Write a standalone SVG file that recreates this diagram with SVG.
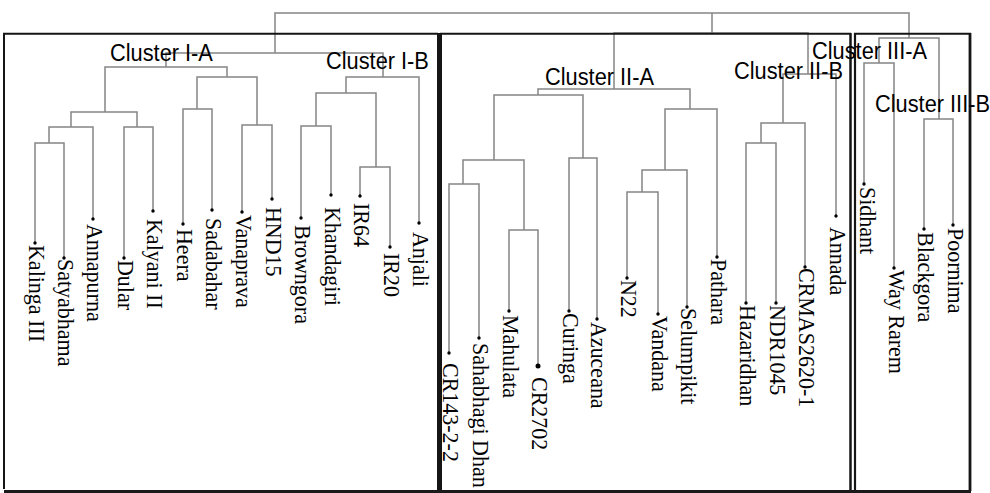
<svg xmlns="http://www.w3.org/2000/svg" width="990" height="493" viewBox="0 0 990 493">
<style>
.ln{stroke:#858585;stroke-width:1.5;fill:none}
.bx{stroke:#151515;fill:none}
.lf{font-family:"Liberation Serif","Times New Roman",serif;font-size:22px;fill:#000}
.cl{font-family:"Liberation Sans",Arial,sans-serif;font-size:21.8px;fill:#000}
.dt{fill:#000}
</style>
<rect width="990" height="493" fill="#fff"/>
<g id="connectors" class="ln">
<path d="M275,53 V13 H909 V38 M712,13 V33"/>
<path d="M166,67 V53 H383 V77"/>
<path d="M105,112 V67 H227 V77"/>
<path d="M71,127 V112 H137 V127"/>
<path d="M49,143 V127 H93 V219"/>
<path d="M35,243 V143 H64 V258"/>
<path d="M124,258 V127 H153 V211"/>
<path d="M197,109 V77 H257 V125"/>
<path d="M183,224 V109 H212 V210"/>
<path d="M242,212 V125 H272 V199"/>
<path d="M346,93 V77 H419 V223"/>
<path d="M316,126 V93 H376 V167"/>
<path d="M301,218 V126 H331 V195"/>
<path d="M360,196 V167 H390 V247"/>
<path d="M614,89 V33 H808 V74"/>
<path d="M538,95 V89 H690 V109"/>
<path d="M494,160 V95 H583 V158"/>
<path d="M463,184 V160 H524 V230"/>
<path d="M449,353 V184 H479 V338"/>
<path d="M509,311 V230 H538 V366"/>
<path d="M569,311 V158 H597 V319"/>
<path d="M665,170 V109 H717 V257"/>
<path d="M642,192 V170 H687 V307"/>
<path d="M627,278 V192 H658 V314"/>
<path d="M783,123 V74 H836 V216"/>
<path d="M761,143 V123 H805 V267"/>
<path d="M746,303 V143 H776 V303"/>
<path d="M879,63 V38 H939 V119"/>
<path d="M864,184 V63 H894 V268"/>
<path d="M924,229 V119 H953 V225"/>
</g>
<g id="boxes" class="bx">
<path d="M4,489 V33.7 H438" stroke-width="2"/>
<path d="M440,33.7 H851" stroke-width="2"/>
<path d="M854,33.7 H971" stroke-width="2"/>
<path d="M439.5,33 V491" stroke-width="5"/>
<path d="M850.5,33 V491" stroke-width="2.5"/>
<path d="M855,33 V491" stroke-width="2.2"/>
<path d="M970,33 V491" stroke-width="2.8"/>
</g>
<g id="cluster-labels" class="cl">
<text id="lbl-IA" transform="translate(110,61) scale(1,1.08)">Cluster I-A</text>
<text id="lbl-IB" transform="translate(326,69) scale(1,1.08)">Cluster I-B</text>
<text id="lbl-IIA" transform="translate(545,85) scale(1,1.08)">Cluster II-A</text>
<text id="lbl-IIB" transform="translate(734,79) scale(1,1.08)">Cluster II-B</text>
<text id="lbl-IIIA" transform="translate(812,59) scale(1,1.08)">Cluster III-A</text>
<text id="lbl-IIIB" transform="translate(875,112) scale(1,1.08)">Cluster III-B</text>
</g>
<g id="leaf-kalinga"><circle class="dt" cx="35" cy="243" r="1.7"/><text class="lf" transform="translate(29,245) rotate(90) scale(1,1.08)">Kalinga III</text></g>
<g id="leaf-satyabhama"><circle class="dt" cx="64" cy="258" r="1.7"/><text class="lf" transform="translate(58,259) rotate(90) scale(1,1.08)">Satyabhama</text></g>
<g id="leaf-annapurna"><circle class="dt" cx="93" cy="219" r="1.7"/><text class="lf" transform="translate(87,224) rotate(90) scale(1,1.08)">Annapurna</text></g>
<g id="leaf-dular"><circle class="dt" cx="124" cy="258" r="1.7"/><text class="lf" transform="translate(118,260) rotate(90) scale(1,1.08)">Dular</text></g>
<g id="leaf-kalyani"><circle class="dt" cx="153" cy="211" r="1.7"/><text class="lf" transform="translate(147,219) rotate(90) scale(1,1.08)">Kalyani II</text></g>
<g id="leaf-heera"><circle class="dt" cx="183" cy="224" r="1.7"/><text class="lf" transform="translate(177,229) rotate(90) scale(1,1.08)">Heera</text></g>
<g id="leaf-sadabahar"><circle class="dt" cx="212" cy="210" r="1.7"/><text class="lf" transform="translate(206,218) rotate(90) scale(1,1.08)">Sadabahar</text></g>
<g id="leaf-vanaprava"><circle class="dt" cx="242" cy="212" r="1.7"/><text class="lf" transform="translate(236,215) rotate(90) scale(1,1.08)">Vanaprava</text></g>
<g id="leaf-hnd15"><circle class="dt" cx="272" cy="199" r="1.7"/><text class="lf" transform="translate(266,207) rotate(90) scale(1,1.08)">HND15</text></g>
<g id="leaf-browngora"><circle class="dt" cx="301" cy="218" r="1.7"/><text class="lf" transform="translate(295,225) rotate(90) scale(1,1.08)">Browngora</text></g>
<g id="leaf-khandagiri"><circle class="dt" cx="331" cy="195" r="1.7"/><text class="lf" transform="translate(325,207) rotate(90) scale(1,1.08)">Khandagiri</text></g>
<g id="leaf-ir64"><circle class="dt" cx="360" cy="196" r="1.7"/><text class="lf" transform="translate(354,203) rotate(90) scale(1,1.08)">IR64</text></g>
<g id="leaf-ir20"><circle class="dt" cx="390" cy="247" r="1.7"/><text class="lf" transform="translate(384,253) rotate(90) scale(1,1.08)">IR20</text></g>
<g id="leaf-anjali"><circle class="dt" cx="419" cy="223" r="1.7"/><text class="lf" transform="translate(413,232) rotate(90) scale(1,1.08)">Anjali</text></g>
<g id="leaf-cr143"><circle class="dt" cx="449" cy="353" r="1.7"/><text class="lf" transform="translate(443,363) rotate(90) scale(1,1.08)">CR143-2-2</text></g>
<g id="leaf-sahabhagi"><circle class="dt" cx="479" cy="338" r="1.7"/><text class="lf" transform="translate(473,343) rotate(90) scale(1,1.08)">Sahabhagi Dhan</text></g>
<g id="leaf-mahulata"><circle class="dt" cx="509" cy="311" r="1.7"/><text class="lf" transform="translate(503,315) rotate(90) scale(1,1.08)">Mahulata</text></g>
<g id="leaf-cr2702"><circle class="dt" cx="538" cy="366" r="2.5"/><text class="lf" transform="translate(532,377) rotate(90) scale(1,1.08)">CR2702</text></g>
<g id="leaf-curinga"><circle class="dt" cx="569" cy="311" r="1.7"/><text class="lf" transform="translate(563,313) rotate(90) scale(1,1.08)">Curinga</text></g>
<g id="leaf-azuceana"><circle class="dt" cx="597" cy="319" r="1.7"/><text class="lf" transform="translate(591,322) rotate(90) scale(1,1.08)">Azuceana</text></g>
<g id="leaf-n22"><circle class="dt" cx="627" cy="278" r="1.7"/><text class="lf" transform="translate(621,280) rotate(90) scale(1,1.08)">N22</text></g>
<g id="leaf-vandana"><circle class="dt" cx="658" cy="314" r="1.7"/><text class="lf" transform="translate(652,316) rotate(90) scale(1,1.08)">Vandana</text></g>
<g id="leaf-selumpikit"><circle class="dt" cx="687" cy="307" r="1.7"/><text class="lf" transform="translate(681,308) rotate(90) scale(1,1.08)">Selumpikit</text></g>
<g id="leaf-pathara"><circle class="dt" cx="717" cy="257" r="1.7"/><text class="lf" transform="translate(711,259) rotate(90) scale(1,1.08)">Pathara</text></g>
<g id="leaf-hazaridhan"><circle class="dt" cx="746" cy="303" r="1.7"/><text class="lf" transform="translate(740,305) rotate(90) scale(1,1.08)">Hazaridhan</text></g>
<g id="leaf-ndr1045"><circle class="dt" cx="776" cy="303" r="1.7"/><text class="lf" transform="translate(770,305) rotate(90) scale(1,1.08)">NDR1045</text></g>
<g id="leaf-crmas"><circle class="dt" cx="805" cy="267" r="1.7"/><text class="lf" transform="translate(799,268) rotate(90) scale(1,1.08)">CRMAS2620-1</text></g>
<g id="leaf-annada"><circle class="dt" cx="836" cy="216" r="1.7"/><text class="lf" transform="translate(830,227) rotate(90) scale(1,1.08)">Annada</text></g>
<g id="leaf-sidhant"><circle class="dt" cx="864" cy="184" r="1.7"/><text class="lf" transform="translate(860,187) rotate(90) scale(1,1.08)">Sidhant</text></g>
<g id="leaf-wayrarem"><circle class="dt" cx="894" cy="268" r="1.7"/><text class="lf" transform="translate(889,270) rotate(90) scale(1,1.08)">Way Rarem</text></g>
<g id="leaf-blackgora"><circle class="dt" cx="924" cy="229" r="1.7"/><text class="lf" transform="translate(918,232) rotate(90) scale(1,1.08)">Blackgora</text></g>
<g id="leaf-poornima"><circle class="dt" cx="953" cy="225" r="1.7"/><text class="lf" transform="translate(948,228) rotate(90) scale(1,1.08)">Poornima</text></g>
<path d="M4,491.5 H971" stroke="#1a1a1a" stroke-width="3" fill="none"/>
</svg>
